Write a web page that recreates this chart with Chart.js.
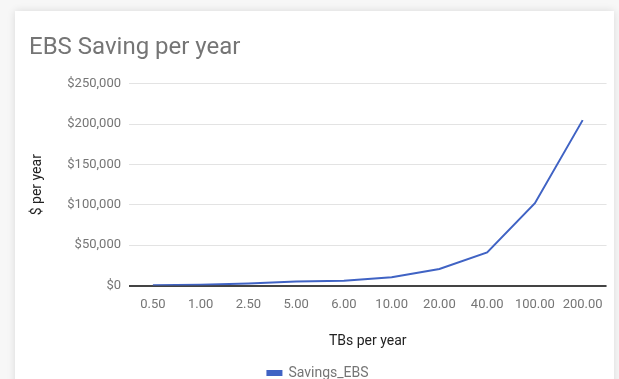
<!DOCTYPE html>
<html>
<head>
<meta charset="utf-8">
<script src="https://cdn.jsdelivr.net/npm/chart.js@4/dist/chart.umd.min.js"></script>
<style>
  html, body { margin: 0; padding: 0; background: #f7f7f7; width: 619px; height: 379px; overflow: hidden; }
  #card { position: absolute; left: 15px; top: 11px; width: 599px; height: 390px; background: #fff;
          box-shadow: 0 0 8px rgba(0,0,0,0.12); }
  #wrap { position: absolute; left: 0; top: 0; width: 599px; height: 379px; }
</style>
</head>
<body>
<div id="card"><div id="wrap"><canvas id="c"></canvas></div></div>
<script>
const categories = ["0.50", "1.00", "2.50", "5.00", "6.00", "10.00", "20.00", "40.00", "100.00", "200.00"];
const savingsEBS = [500, 1000, 2500, 5100, 6100, 10300, 20600, 41200, 102000, 205000];
const yTicks = [0, 50000, 100000, 150000, 200000, 250000];

const gray = "#757575";
new Chart(document.getElementById("c"), {
  type: "line",
  data: {
    labels: categories,
    datasets: [{
      label: "Savings_EBS",
      data: savingsEBS,
      borderColor: "#4063c4",
      backgroundColor: "#4063c4",
      borderWidth: 2,
      pointRadius: 0,
      tension: 0
    }]
  },
  options: {
    responsive: true,
    maintainAspectRatio: false,
    animation: false,
    layout: { padding: { left: 14, right: 7, top: 0, bottom: 0 } },
    plugins: {
      title: {
        display: true,
        text: "EBS Saving per year",
        align: "start",
        color: gray,
        font: { family: "Roboto", size: 24, weight: "normal" },
        padding: { top: 23, bottom: 21 }
      },
      legend: {
        display: true,
        position: "bottom",
        labels: {
          boxWidth: 14, boxHeight: 4,
          color: gray,
          font: { family: "Roboto", size: 14 },
          padding: 6
        }
      },
      tooltip: { enabled: false }
    },
    scales: {
      x: {
        offset: true,
        grid: { display: false, drawTicks: false, offset: true },
        border: { display: false },
        ticks: { color: gray, font: { family: "Roboto", size: 13 }, maxRotation: 0, autoSkip: false, padding: 11 },
        title: { display: true, text: "TBs per year", color: "#222", font: { family: "Roboto", size: 14 }, padding: { top: 10, bottom: 10 } }
      },
      y: {
        min: 0, max: 250000,
        afterFit: s => { s.width = 100; },
        afterBuildTicks: s => { s.ticks = yTicks.map(v => ({ value: v })); },
        grid: {
          drawTicks: false,
          color: ctx => ctx.tick && ctx.tick.value === 0 ? "#444" : "#e3e3e3",
          lineWidth: ctx => ctx.tick && ctx.tick.value === 0 ? 2 : 1
        },
        border: { display: false },
        ticks: {
          color: gray, font: { family: "Roboto", size: 13 }, padding: 8,
          callback: v => "$" + Number(v).toLocaleString("en-US")
        },
        title: { display: true, text: "$ per year", color: "#222", font: { family: "Roboto", size: 14 }, padding: { top: 0, bottom: 0 } }
      }
    }
  }
});
</script>
</body>
</html>
